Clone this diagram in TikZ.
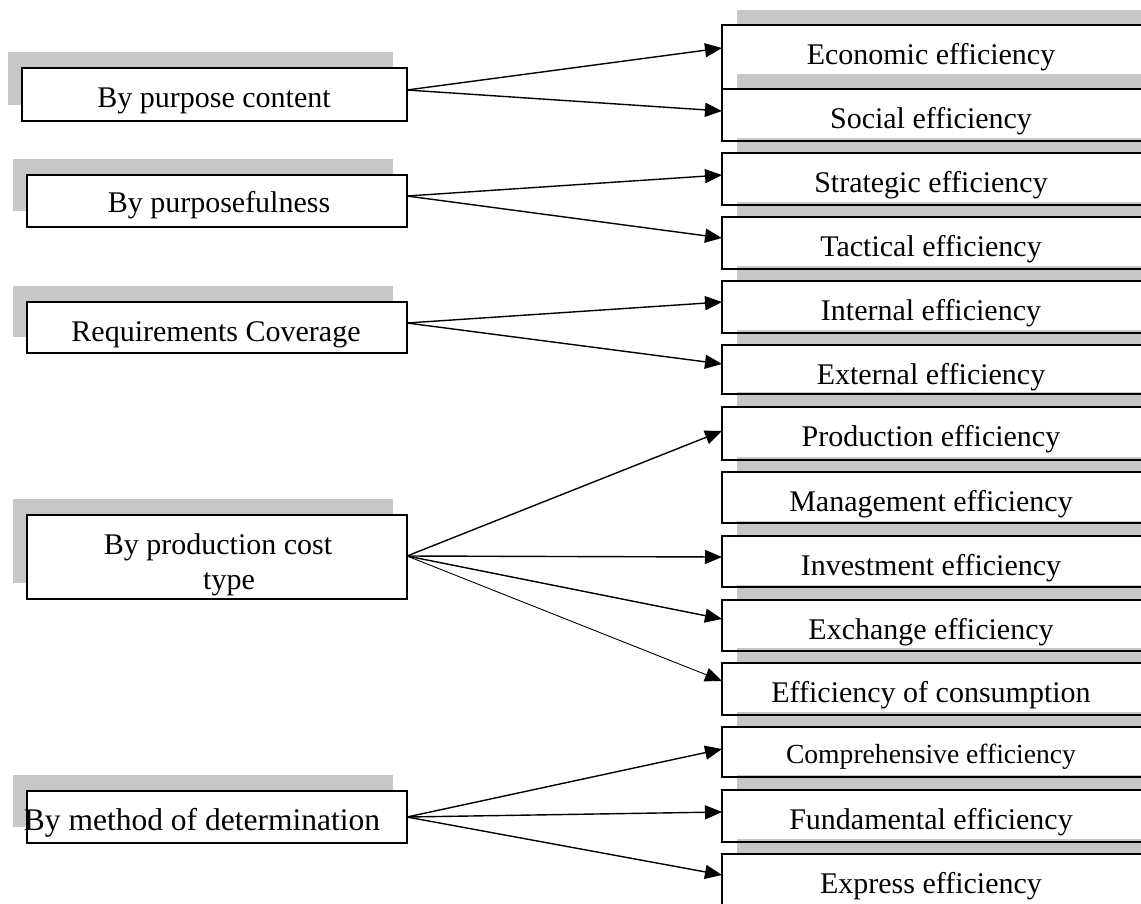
\documentclass[tikz,border=0pt]{standalone}
\usepackage{fontspec}
\setmainfont{Liberation Serif}[Ligatures=CommonOff]
\usetikzlibrary{arrows.meta,calc}

\begin{document}
\begin{tikzpicture}[x=1pt,y=-1pt,
  shadowfill/.style={fill=black,fill opacity=0.22,draw=none},
  box/.style={rectangle,draw=black,line width=1.5pt,fill=white,inner sep=0pt,outer sep=0pt,anchor=north west},
  lbl/.style={inner sep=0pt,outer sep=0pt,font=\fontsize{30}{34}\selectfont,anchor=base},
  arr/.style={line width=1.4pt,-{Triangle[length=17pt,width=14pt]}},
  thinarr/.style={line width=0.9pt,-{Triangle[length=17pt,width=14pt]}},
]
\useasboundingbox (0,0) rectangle (1141,903);
\clip (0,0) rectangle (1141,903);

% ---------- classification criteria (left column) ----------
\fill[shadowfill] (8,52) rectangle (393,105);
\node[box,minimum width=385,minimum height=53] (A) at (22,68) {};
\node[lbl] (At) at (214,107) {By purpose content};

\fill[shadowfill] (13,159) rectangle (393,211);
\node[box,minimum width=380,minimum height=52] (B) at (27,175) {};
\node[lbl] (Bt) at (219,212) {By purposefulness};

\fill[shadowfill] (13,286) rectangle (393,337);
\node[box,minimum width=380,minimum height=51] (C) at (27,302) {};
\node[lbl] (Ct) at (216,341) {Requirements Coverage};

\fill[shadowfill] (13,499) rectangle (393,583);
\node[box,minimum width=380,minimum height=84] (D) at (27,515) {};
\node[lbl] (Dt1) at (218,554) {By production cost};
\node[lbl] (Dt2) at (229,589) {type};

\fill[shadowfill] (13,775) rectangle (393,827);
\node[box,minimum width=380,minimum height=52] (E) at (27,791) {};
\node[lbl,font=\fontsize{31.5}{35}\selectfont] (Et) at (202,830) {By method of determination};

% ---------- kinds of efficiency (right column) ----------
\fill[shadowfill] (737,10) rectangle (1160,74);
\node[box,minimum width=420,minimum height=64] (r1) at (722,25) {};
\node[lbl] (r1t) at (931,64) {Economic efficiency};

\fill[shadowfill] (737,74) rectangle (1160,126);
\node[box,minimum width=420,minimum height=52] (r2) at (722,89) {};
\node[lbl] (r2t) at (931,128) {Social efficiency};

\fill[shadowfill] (737,138) rectangle (1160,190);
\node[box,minimum width=420,minimum height=52] (r3) at (722,153) {};
\node[lbl] (r3t) at (931,192) {Strategic efficiency};

\fill[shadowfill] (737,202) rectangle (1160,254);
\node[box,minimum width=420,minimum height=52] (r4) at (722,217) {};
\node[lbl] (r4t) at (931,256) {Tactical efficiency};

\fill[shadowfill] (737,266) rectangle (1160,318);
\node[box,minimum width=420,minimum height=52] (r5) at (722,281) {};
\node[lbl] (r5t) at (931,320) {Internal efficiency};

\fill[shadowfill] (737,330) rectangle (1160,382);
\node[box,minimum width=420,minimum height=49] (r6) at (722,345) {};
\node[lbl] (r6t) at (931,384) {External efficiency};

\fill[shadowfill] (737,392) rectangle (1160,445);
\node[box,minimum width=420,minimum height=53] (r7) at (722,407) {};
\node[lbl] (r7t) at (931,446) {Production efficiency};

\fill[shadowfill] (737,457) rectangle (1160,509);
\node[box,minimum width=420,minimum height=51] (r8) at (722,472) {};
\node[lbl] (r8t) at (931,511) {Management efficiency};

\fill[shadowfill] (737,521) rectangle (1160,573);
\node[box,minimum width=420,minimum height=51] (r9) at (722,536) {};
\node[lbl] (r9t) at (931,575) {Investment efficiency};

\fill[shadowfill] (737,585) rectangle (1160,637);
\node[box,minimum width=420,minimum height=51] (r10) at (722,600) {};
\node[lbl] (r10t) at (931,639) {Exchange efficiency};

\fill[shadowfill] (737,648) rectangle (1160,700);
\node[box,minimum width=420,minimum height=52] (r11) at (722,663) {};
\node[lbl] (r11t) at (931,702) {Efficiency of consumption};

\fill[shadowfill] (737,712) rectangle (1160,762);
\node[box,minimum width=420,minimum height=50] (r12) at (722,727) {};
\node[lbl,font=\fontsize{27.6}{32}\selectfont] (r12t) at (931,763) {Comprehensive efficiency};

\fill[shadowfill] (737,775) rectangle (1160,827);
\node[box,minimum width=420,minimum height=52] (r13) at (722,790) {};
\node[lbl] (r13t) at (931,829) {Fundamental efficiency};

\fill[shadowfill] (737,839) rectangle (1160,910);
\node[box,minimum width=420,minimum height=60] (r14) at (722,854) {};
\node[lbl] (r14t) at (931,893) {Express efficiency};

% ---------- connectors ----------
\coordinate (Ao) at ($(A.north east)+(0,22)$);
\coordinate (Bo) at ($(B.north east)+(0,21)$);
\coordinate (Co) at ($(C.north east)+(0,21)$);
\coordinate (Do) at ($(D.north east)+(0,41)$);
\coordinate (Eo) at ($(E.north east)+(0,26)$);

\draw[arr] (Ao) -- ($(r1.north west)+(0,23)$);
\draw[arr] (Ao) -- ($(r2.north west)+(0,22)$);
\draw[arr] (Bo) -- ($(r3.north west)+(0,22)$);
\draw[arr] (Bo) -- ($(r4.north west)+(0,21)$);
\draw[arr] (Co) -- ($(r5.north west)+(0,21)$);
\draw[arr] (Co) -- ($(r6.north west)+(0,19)$);
\draw[arr] (Do) -- ($(r7.north west)+(0,24)$);
\draw[arr] (Do) -- ($(r9.north west)+(0,21)$);
\draw[arr] (Do) -- ($(r10.north west)+(0,19)$);
\draw[thinarr] (Do) -- ($(r11.north west)+(0,18)$);
\draw[arr] (Eo) -- ($(r12.north west)+(0,22)$);
\draw[arr] (Eo) -- ($(r13.north west)+(0,22)$);
\draw[arr] (Eo) -- ($(r14.north west)+(0,21)$);
\end{tikzpicture}
\end{document}
